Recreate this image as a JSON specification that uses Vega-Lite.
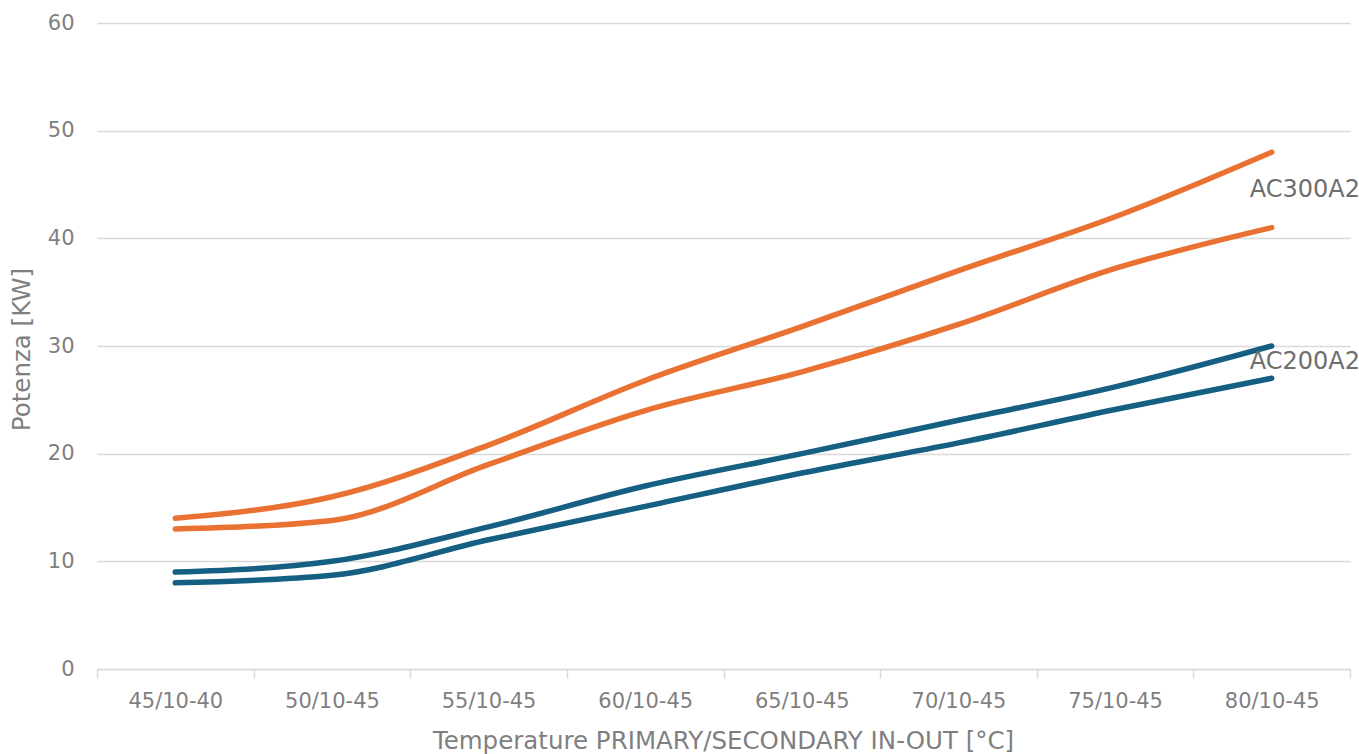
{
  "$schema": "https://vega.github.io/schema/vega-lite/v6.json",
  "autosize": "none",
  "width": 1253,
  "height": 646,
  "padding": {"left": 97, "top": 23, "right": 9, "bottom": 85},
  "background": "white",
  "config": {
    "view": {"stroke": null},
    "font": "DejaVu Sans",
    "axis": {"labelColor": "#7F7F7F", "titleColor": "#7F7F7F", "labelFont": "DejaVu Sans", "titleFont": "DejaVu Sans", "titleFontWeight": "normal"}
  },
  "datasets": {
    "series": [
      {"temp": "45/10-40", "serie": "A", "kw": 14},
      {"temp": "50/10-45", "serie": "A", "kw": 16},
      {"temp": "55/10-45", "serie": "A", "kw": 20.8},
      {"temp": "60/10-45", "serie": "A", "kw": 26.8},
      {"temp": "65/10-45", "serie": "A", "kw": 31.8},
      {"temp": "70/10-45", "serie": "A", "kw": 37},
      {"temp": "75/10-45", "serie": "A", "kw": 42},
      {"temp": "80/10-45", "serie": "A", "kw": 48},
      {"temp": "45/10-40", "serie": "B", "kw": 13},
      {"temp": "50/10-45", "serie": "B", "kw": 13.8},
      {"temp": "55/10-45", "serie": "B", "kw": 19},
      {"temp": "60/10-45", "serie": "B", "kw": 24},
      {"temp": "65/10-45", "serie": "B", "kw": 27.6},
      {"temp": "70/10-45", "serie": "B", "kw": 32},
      {"temp": "75/10-45", "serie": "B", "kw": 37.2},
      {"temp": "80/10-45", "serie": "B", "kw": 41},
      {"temp": "45/10-40", "serie": "C", "kw": 9},
      {"temp": "50/10-45", "serie": "C", "kw": 10},
      {"temp": "55/10-45", "serie": "C", "kw": 13.2},
      {"temp": "60/10-45", "serie": "C", "kw": 17},
      {"temp": "65/10-45", "serie": "C", "kw": 20},
      {"temp": "70/10-45", "serie": "C", "kw": 23.1},
      {"temp": "75/10-45", "serie": "C", "kw": 26.2},
      {"temp": "80/10-45", "serie": "C", "kw": 30},
      {"temp": "45/10-40", "serie": "D", "kw": 8},
      {"temp": "50/10-45", "serie": "D", "kw": 8.7},
      {"temp": "55/10-45", "serie": "D", "kw": 12},
      {"temp": "60/10-45", "serie": "D", "kw": 15.1},
      {"temp": "65/10-45", "serie": "D", "kw": 18.2},
      {"temp": "70/10-45", "serie": "D", "kw": 21},
      {"temp": "75/10-45", "serie": "D", "kw": 24.1},
      {"temp": "80/10-45", "serie": "D", "kw": 27}
    ],
    "labels": [
      {"temp": "80/10-45", "kw": 44.5, "label": "AC300A2"},
      {"temp": "80/10-45", "kw": 28.5, "label": "AC200A2"}
    ]
  },
  "encoding": {
    "x": {
      "field": "temp", "type": "nominal", "sort": null,
      "scale": {"type": "band", "paddingInner": 0, "paddingOuter": 0},
      "axis": {
        "title": "Temperature PRIMARY/SECONDARY IN-OUT [°C]",
        "labelAngle": 0, "labelFontSize": 21, "labelPadding": 12,
        "tickBand": "extent", "ticks": true, "tickSize": 9, "tickColor": "#D9D9D9", "tickWidth": 1.5,
        "domain": true, "domainColor": "#D9D9D9", "domainWidth": 1.5, "grid": false,
        "titleFontSize": 24.5, "titleX": 626, "titleY": 72, "titleBaseline": "middle", "titleAlign": "center"
      }
    },
    "y": {
      "field": "kw", "type": "quantitative",
      "scale": {"domain": [0, 60], "nice": false},
      "axis": {
        "title": "Potenza [KW]", "values": [0, 10, 20, 30, 40, 50, 60],
        "labelFontSize": 21, "labelPadding": 23, "ticks": false, "domain": false,
        "grid": true, "gridColor": "#D9D9D9", "gridWidth": 1.5,
        "titleFontSize": 24.5, "titleX": -75, "titleY": 326, "titleAngle": -90, "titleBaseline": "middle", "titleAlign": "center"
      }
    }
  },
  "layer": [
    {
      "data": {"name": "series"},
      "mark": {"type": "line", "interpolate": "monotone", "strokeWidth": 5.5, "strokeCap": "round", "strokeJoin": "round"},
      "encoding": {
        "color": {
          "field": "serie", "type": "nominal",
          "scale": {"domain": ["A", "B", "C", "D"], "range": ["#E97132", "#E97132", "#156082", "#156082"]},
          "legend": null
        },
        "detail": {"field": "serie"}
      }
    },
    {
      "data": {"name": "labels"},
      "mark": {"type": "text", "align": "left", "baseline": "middle", "dx": -22, "fontSize": 24, "color": "#6E6E6E", "font": "DejaVu Sans"},
      "encoding": {"text": {"field": "label"}}
    }
  ]
}
